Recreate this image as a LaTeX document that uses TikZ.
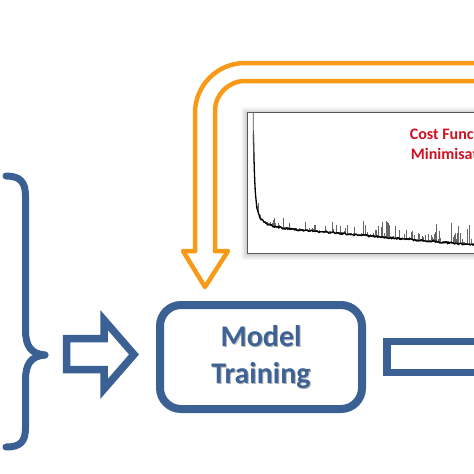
\documentclass[tikz,border=0pt]{standalone}
\usepackage{fontspec}
\setmainfont{Carlito}
\definecolor{dblue}{RGB}{59,96,148}
\definecolor{tblue}{RGB}{60,98,150}
\definecolor{orng}{RGB}{248,154,24}
\definecolor{cred}{RGB}{208,16,32}
\tikzset{
  bluestroke/.style={draw=dblue, line width=7.5pt, line join=miter},
  bracestroke/.style={draw=dblue, line width=7pt, line cap=round, line join=round},
  orangestroke/.style={draw=orng, line width=4.5pt, line cap=round, line join=round},
  modelbox/.style={draw=dblue, line width=8pt, rounded corners=21pt, minimum width=202pt, minimum height=104pt, fill=white},
  bigtext/.style={font=\bfseries\fontsize{30}{37}\selectfont, align=center, text=tblue},
  redtext/.style={font=\bfseries\fontsize{16}{19.5}\selectfont, align=center, text=cred},
  spike/.style={draw=black!60, line width=0.7pt},
}
\begin{document}
\begin{tikzpicture}[x=1pt,y=-1pt]
\useasboundingbox (0,0) rectangle (474,474);
\fill[white] (0,0) rectangle (474,474);

% brace
\draw[bracestroke] (6,176) .. controls (20,176) and (25.5,182) .. (25.5,196)
  -- (25.5,330) .. controls (25.5,346) and (31,354) .. (45,355);
\draw[bracestroke] (45,355) .. controls (31,356) and (25.5,364) .. (25.5,380)
  -- (25.5,428) .. controls (25.5,442) and (20,447) .. (6,447);

% left hollow arrow
\draw[bluestroke] (66.5,338.5) -- (104,338.5) -- (104,320) -- (134,354.5) -- (104,389) -- (104,369.5) -- (66.5,369.5) -- cycle;

% model training box
\node[modelbox] (model) at (261,357) {};
\node[bigtext, text=black, opacity=0.3] at (262,358.5) {Model\\Training};
\node[bigtext] (mtext) at (261,357) {Model\\Training};

% right hollow arrow (continues beyond the edge)
\coordinate (ra) at (387,341.5);
\draw[bluestroke] (485,341.5) -- (ra) -- (387,372.5) -- (485,372.5);

% chart shadow
\foreach \d/\o in {6/0.03,4.5/0.04,3/0.05,1.5/0.06}{
  \fill[black, opacity=\o, rounded corners=2pt] (247-\d,112-\d+1) rectangle (480,253+\d+1);
}
% chart
\node[draw=black!65, line width=1.3pt, fill=white, minimum width=240pt, minimum height=141pt, anchor=north west, inner sep=0pt] (chart) at (247,112) {};
\pgfmathsetseed{11}
\foreach \x in {257,258,...,480}{
  \pgfmathsetmacro\yb{226+19*(\x-253)/221-94*exp(-(\x-253)/1.5)-20*exp(-(\x-253)/8)}
  \pgfmathsetmacro\r{rnd}
  \pgfmathsetmacro\h{\r>0.4 ? (\r-0.4)*(\r-0.4)*(14+0.06*(\x-253))*2.2 : 1.2}
  \draw[spike] (\x,\yb+0.5) -- (\x,\yb-\h);
}
\draw[black, line width=1.3pt, line join=round] plot[domain=253.4:480, samples=260, smooth]
  (\x,{226+19*(\x-253)/221-94*exp(-(\x-253)/1.5)-20*exp(-(\x-253)/8)+1.0*rand});
\draw[black!70, line width=0.8pt] (253.2,113) -- (253.6,160);

\node[redtext] (cost) at (455,144) {Cost Function\\Minimisation};

% orange feedback arrow (continues beyond the edge)
\coordinate (oa) at (205,287);
\draw[orangestroke, rounded corners=50pt] (485,63) -- (195,63) -- (195,251);
\draw[orangestroke] (195,251) -- (183,251) -- (oa) -- (228,251) -- (215,251);
\draw[orangestroke, rounded corners=30pt] (215,251) -- (215,81) -- (485,81);
\end{tikzpicture}
\end{document}
